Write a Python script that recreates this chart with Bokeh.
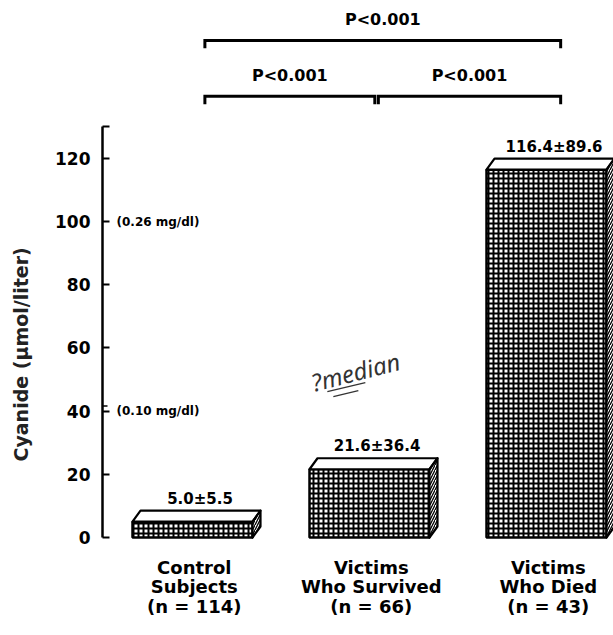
from bokeh.plotting import figure
from bokeh.models import FixedTicker
from bokeh.core.properties import value
from bokeh.embed import file_html
from bokeh.resources import INLINE

# ---- data -------------------------------------------------------------
groups = ["Control\nSubjects\n(n = 114)",
          "Victims\nWho Survived\n(n = 66)",
          "Victims\nWho Died\n(n = 43)"]
means = [5.0, 21.6, 116.4]          # cyanide, umol/liter
sds = [5.5, 36.4, 89.6]
y_ticks = [0, 20, 40, 60, 80, 100, 120]
ref_levels = [100, 40]
ref_labels = ["(0.26 mg/dl)", "(0.10 mg/dl)"]
comparisons = [(0, 1), (1, 2), (0, 2)]
p_labels = ["P<0.001", "P<0.001", "P<0.001"]

# ---- geometry / style -------------------------------------------------
FONT = "DejaVu Sans"
PX_X = 177.0      # pixels per category step
PX_Y = 3.16       # pixels per umol/liter
half = 60 / PX_X  # half width of a bar's front face
ddx = 8 / PX_X    # depth offset of the 3-D box
ddy = 11 / PX_Y

centers = list(range(len(means)))
x0 = -90 / PX_X

p = figure(width=613, height=635,
           x_range=(x0, 421 / PX_X),
           y_range=(-98 / PX_Y, 537 / PX_Y),
           output_backend="svg", toolbar_location=None,
           x_axis_location=None,
           min_border_left=102, min_border_right=0,
           min_border_top=0, min_border_bottom=0)
p.grid.visible = False
p.outline_line_color = None
p.background_fill_color = "white"

# ---- y axis -----------------------------------------------------------
ax = p.yaxis[0]
top_cap = 130
ax.ticker = FixedTicker(ticks=y_ticks + [top_cap])
ax.major_label_overrides = {top_cap: ""}
ax.bounds = (0, top_cap)
ax.minor_tick_line_color = None
ax.major_tick_in = 7
ax.major_tick_out = 0
ax.major_tick_line_width = 2
ax.axis_line_width = 2.5
ax.major_label_standoff = 12
ax.major_label_text_font = FONT
ax.major_label_text_font_style = "bold"
ax.major_label_text_font_size = "17px"
ax.major_label_text_color = "black"
# trailing no-break spaces push the centred title down along the axis
ax.axis_label = "Cyanide (\u03bcmol/liter)" + "\u00a0" * 11
ax.axis_label_text_font = FONT
ax.axis_label_text_font_style = "bold"
ax.axis_label_text_font_size = "19px"
ax.axis_label_text_color = "#222222"
ax.axis_label_standoff = 20

# second stroke of the 40 tick
p.segment(x0=[x0], y0=[41.6], x1=[x0 + 5 / PX_X], y1=[41.6],
          line_color="black", line_width=1.6)

# ---- 3-D bars ---------------------------------------------------------
lefts = [c - half for c in centers]
rights = [c + half for c in centers]

# front faces: screened (black mesh with white openings)
p.quad(left=lefts, right=rights, bottom=0, top=means,
       fill_color="white", hatch_pattern="+", hatch_color="black",
       hatch_scale=5, hatch_weight=2.0,
       line_color="black", line_width=2.5)

# top faces
top_xs = [[l, l + ddx, r + ddx, r] for l, r in zip(lefts, rights)]
top_ys = [[m, m + ddy, m + ddy, m] for m in means]
p.patches(top_xs, top_ys, fill_color="white",
          line_color="black", line_width=2.2, line_join="round")

# side faces: diagonal hatching
side_xs = [[r, r, r + ddx, r + ddx] for r in rights]
side_ys = [[0, m, m + ddy, ddy] for m in means]
p.patches(side_xs, side_ys, fill_color="white",
          hatch_pattern="/", hatch_color="black", hatch_scale=5,
          hatch_weight=1.3, line_color="black", line_width=2.2,
          line_join="round")

# mean +/- SD above each bar
p.text(x=[c + ddx / 2 + 0.02 for c in centers],
       y=[m + ddy + 1.0 for m in means],
       text=[f"{m:.1f}\u00b1{s:.1f}" for m, s in zip(means, sds)],
       text_align="center", text_baseline="bottom",
       text_font=value(FONT), text_font_style="bold",
       text_font_size="15px", text_color="black")

# group names under the bars
p.text(x=[c + 0.01 for c in centers], y=-19 / PX_Y, text=groups,
       text_align="center", text_baseline="top",
       text_font=value(FONT), text_font_style="bold",
       text_font_size="18px", text_line_height=0.95, text_color="black")

# reference concentrations in mg/dl beside the axis
p.text(x=-76 / PX_X, y=ref_levels, text=ref_labels,
       text_align="left", text_baseline="middle",
       text_font=value(FONT), text_font_style="bold",
       text_font_size="12px", text_color="black")

# ---- significance brackets -------------------------------------------
low_level = 139.6
high_level = 157.3
drop = 2.5
br_xs, br_ys, lab_x, lab_y = [], [], [], []
for a, b in comparisons:
    x1 = a + 0.07 if a == 0 else a + 0.05
    x2 = b + 0.08 if b == 2 else b + 0.03
    lvl = high_level if (b - a) > 1 else low_level
    br_xs.append([x1, x1, x2, x2])
    br_ys.append([lvl - drop, lvl, lvl, lvl - drop])
    lab_x.append((x1 + x2) / 2)
    lab_y.append(lvl + 6.5)
p.multi_line(br_xs, br_ys, line_color="black", line_width=3,
             line_join="miter")
p.text(x=lab_x, y=lab_y, text=p_labels,
       text_align="center", text_baseline="middle",
       text_font=value(FONT), text_font_style="bold",
       text_font_size="16px", text_color="black")

# ---- pencil note -------------------------------------------------------
note_x, note_y = 0.92, 52.5
p.text(x=[note_x], y=[note_y], text=["?median"], angle=0.25,
       text_align="center", text_baseline="middle",
       text_font=value("Noto Sans"), text_font_style="italic",
       text_font_size="24px", text_color="#333333")
strokes = [((-28, -20), (10, -11)), ((-22, -25), (3, -19))]
p.multi_line([[note_x + a[0] / PX_X, note_x + b[0] / PX_X] for a, b in strokes],
             [[note_y + a[1] / PX_Y, note_y + b[1] / PX_Y] for a, b in strokes],
             line_color="#333333", line_width=1.3)

open("out.html", "w").write(file_html(p, INLINE))
